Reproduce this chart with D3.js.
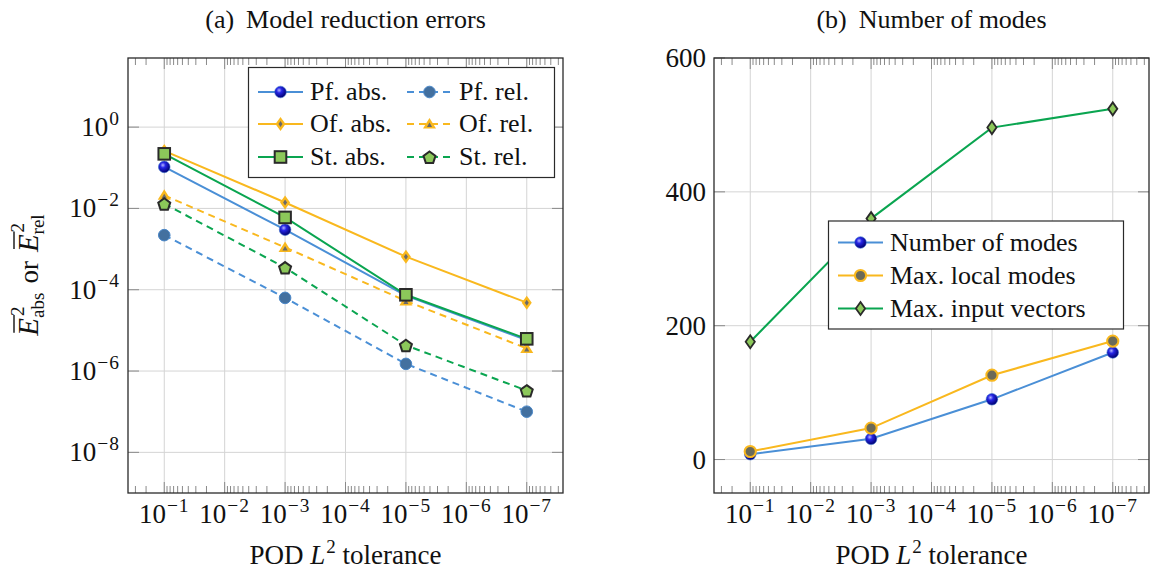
<!DOCTYPE html>
<html>
<head>
<meta charset="utf-8">
<script src="https://cdn.jsdelivr.net/npm/d3@7"></script>
<style>
  body { margin: 0; background: #fff; }
  svg { display: block; }
  svg text { font-family: "Liberation Serif", "Times New Roman", Tinos, "DejaVu Serif", serif; fill: #111; }
</style>
</head>
<body>
<svg id="fig" width="1151" height="571"></svg>
<script>
// DATA ///////////////////////////////////////////////////////////////////////
const tolerances = [1e-1, 1e-3, 1e-5, 1e-7];
const xTickExps = [-1, -2, -3, -4, -5, -6, -7];

// (a) model reduction errors
const pfAbs = [1.05e-1, 3.0e-3, 7.2e-5, 5.8e-6];
const pfRel = [2.2e-3, 6.3e-5, 1.5e-6, 1.0e-7];
const ofAbs = [2.6e-1, 1.4e-2, 6.5e-4, 4.8e-5];
const ofRel = [2.1e-2, 1.1e-3, 5.3e-5, 3.6e-6];
const stAbs = [2.2e-1, 6.0e-3, 7.5e-5, 6.2e-6];
const stRel = [1.3e-2, 3.5e-4, 4.3e-6, 3.3e-7];
const yTickExpsA = [0, -2, -4, -6, -8];

// (b) number of modes
const numModes = [8, 31, 90, 160];
const maxLocalModes = [12, 47, 126, 177];
const maxInputVectors = [176, 360, 496, 524];
const yTicksB = [0, 200, 400, 600];

// STYLE //////////////////////////////////////////////////////////////////////
const BLUE = "#4a8fd6", ORANGE = "#f9b81e", GREEN = "#0aa550";
const LIGHTGREEN = "#8cc85a", DARK = "#2a2a2a";
const GRID = "#d4d4d4", TICK = "#8a8a8a";
const TICKFONT = 27, LEGFONT = 26, LABFONT = 27, TITLEFONT = 26;

const svg = d3.select("#fig");

// ball gradient for the blue sphere markers
const defs = svg.append("defs");
const grad = defs.append("radialGradient").attr("id", "ball")
  .attr("cx", "38%").attr("cy", "35%").attr("r", "65%");
grad.append("stop").attr("offset", "0%").attr("stop-color", "#b4b4ff");
grad.append("stop").attr("offset", "35%").attr("stop-color", "#2626e6");
grad.append("stop").attr("offset", "100%").attr("stop-color", "#000070");

// markers
function marker(g, type, x, y) {
  const m = g.append("g").attr("transform", `translate(${x},${y})`);
  if (type === "ball") {
    m.append("circle").attr("r", 5.8).attr("fill", "url(#ball)")
      .attr("stroke", "#3a70d0").attr("stroke-width", 0.6);
  } else if (type === "dot") {
    m.append("circle").attr("r", 5.8).attr("fill", "#43709f")
      .attr("stroke", "#4a87c8").attr("stroke-width", 1);
  } else if (type === "diamondDot") {
    m.append("path").attr("d", "M0,-7L5,0L0,7L-5,0Z").attr("fill", ORANGE);
    m.append("path").attr("d", "M0,-3L2,0L0,3L-2,0Z").attr("fill", "#6a6a6a");
  } else if (type === "triDot") {
    m.append("path").attr("d", "M0,-6L6.5,4.5L-6.5,4.5Z").attr("fill", ORANGE);
    m.append("path").attr("d", "M0,-1.5L2.6,3L-2.6,3Z").attr("fill", "#6a6a6a");
  } else if (type === "square") {
    m.append("rect").attr("x", -5.8).attr("y", -5.8).attr("width", 11.6).attr("height", 11.6)
      .attr("fill", LIGHTGREEN).attr("stroke", DARK).attr("stroke-width", 2);
  } else if (type === "pentagon") {
    const pts = d3.range(5).map(i => {
      const a = -Math.PI / 2 + i * 2 * Math.PI / 5;
      return [6.3 * Math.cos(a), 6.3 * Math.sin(a) + 0.8];
    });
    m.append("path").attr("d", "M" + pts.join("L") + "Z")
      .attr("fill", LIGHTGREEN).attr("stroke", DARK).attr("stroke-width", 2);
  } else if (type === "ring") {
    m.append("circle").attr("r", 5.6).attr("fill", "#6b6a58")
      .attr("stroke", ORANGE).attr("stroke-width", 2);
  } else if (type === "diamondGreen") {
    m.append("path").attr("d", "M0,-6.5L4.6,0L0,6.5L-4.6,0Z")
      .attr("fill", LIGHTGREEN).attr("stroke", DARK).attr("stroke-width", 1.8);
  }
}

// "10^e" style label
function powLabel(sel, exp, size) {
  sel.append("tspan").text("10");
  sel.append("tspan").attr("dx", 1).attr("dy", -size * 0.42)
    .style("font-size", (size * 0.72) + "px").style("letter-spacing", "1px")
    .text((exp < 0 ? "\u2212" : "") + Math.abs(exp));
}

// PANELS /////////////////////////////////////////////////////////////////////
const plotTop = 58, plotBottom = 493, panelW = 435;
const panelLeft = [128, 714];

function xScale(x0) {
  return d3.scaleLog().domain([Math.pow(10, -0.4), Math.pow(10, -7.6)]).range([x0, x0 + panelW]);
}

function drawFrame(g, x, y, yMajor, yTickFmt, title) {
  const [x0, x1] = x.range();
  // grid
  g.selectAll(null).data(xTickExps).enter().append("line")
    .attr("x1", d => x(Math.pow(10, d))).attr("x2", d => x(Math.pow(10, d)))
    .attr("y1", plotTop).attr("y2", plotBottom).attr("stroke", GRID).attr("stroke-width", 1);
  g.selectAll(null).data(yMajor).enter().append("line")
    .attr("x1", x0).attr("x2", x1).attr("y1", d => y(d)).attr("y2", d => y(d))
    .attr("stroke", GRID).attr("stroke-width", 1);

  // x ticks (major + minor), top and bottom, inside
  const minor = [];
  for (let e = 0; e >= -8; e--) for (let m = 2; m <= 9; m++) {
    const v = m * Math.pow(10, e - 1);
    const px = x(v);
    if (px > x0 + 0.5 && px < x1 - 0.5) minor.push(v);
  }
  [[plotBottom, -1], [plotTop, 1]].forEach(([yy, dir]) => {
    g.selectAll(null).data(minor).enter().append("line")
      .attr("x1", d => x(d)).attr("x2", d => x(d))
      .attr("y1", yy).attr("y2", yy + dir * 7).attr("stroke", TICK).attr("stroke-width", 1);
    g.selectAll(null).data(xTickExps).enter().append("line")
      .attr("x1", d => x(Math.pow(10, d))).attr("x2", d => x(Math.pow(10, d)))
      .attr("y1", yy).attr("y2", yy + dir * 11).attr("stroke", TICK).attr("stroke-width", 1);
  });
  // y ticks, left and right
  [[x0, 1], [x1, -1]].forEach(([xx, dir]) => {
    g.selectAll(null).data(yMajor).enter().append("line")
      .attr("x1", xx).attr("x2", xx + dir * 11).attr("y1", d => y(d)).attr("y2", d => y(d))
      .attr("stroke", TICK).attr("stroke-width", 1);
  });

  // tick labels
  g.selectAll(null).data(xTickExps).enter().append("text")
    .attr("x", d => x(Math.pow(10, d))).attr("y", plotBottom + 30)
    .attr("text-anchor", "middle").style("font-size", TICKFONT + "px")
    .each(function (d) { powLabel(d3.select(this), d, TICKFONT); });
  g.selectAll(null).data(yMajor).enter().append("text")
    .attr("x", x0 - 8).attr("y", d => y(d) + 9)
    .attr("text-anchor", "end").style("font-size", TICKFONT + "px")
    .each(function (d) { yTickFmt(d3.select(this), d); });

  // x label
  const xl = g.append("text").attr("x", (x0 + x1) / 2).attr("y", 564)
    .attr("text-anchor", "middle").style("font-size", LABFONT + "px");
  xl.append("tspan").text("POD ");
  xl.append("tspan").style("font-style", "italic").text("L");
  xl.append("tspan").attr("dx", 1).attr("dy", -11).style("font-size", "19px").text("2");
  xl.append("tspan").attr("dy", 11).text(" tolerance");

  // title
  const t = g.append("text").attr("x", (x0 + x1) / 2).attr("y", 28)
    .attr("text-anchor", "middle").style("font-size", TITLEFONT + "px");
  t.append("tspan").text(title[0]);
  t.append("tspan").attr("dx", 12).text(title[1]);
}

function drawSeries(g, x, y, vals, color, dashed, mk) {
  const line = d3.line().x((d, i) => x(tolerances[i])).y(d => y(d));
  g.append("path").datum(vals).attr("d", line).attr("fill", "none")
    .attr("stroke", color).attr("stroke-width", 2)
    .attr("stroke-dasharray", dashed ? "7,5" : null);
  vals.forEach((v, i) => marker(g, mk, x(tolerances[i]), y(v)));
}

function drawBorder(g, x) {
  const [x0, x1] = x.range();
  g.append("rect").attr("x", x0).attr("y", plotTop).attr("width", x1 - x0).attr("height", plotBottom - plotTop)
    .attr("fill", "none").attr("stroke", DARK).attr("stroke-width", 1.3);
}

function legendEntry(g, lx, ly, color, dashed, mk, label) {
  g.append("line").attr("x1", lx).attr("x2", lx + 45).attr("y1", ly).attr("y2", ly)
    .attr("stroke", color).attr("stroke-width", 2).attr("stroke-dasharray", dashed ? "7,5" : null);
  marker(g, mk, lx + 22.5, ly);
  g.append("text").attr("x", lx + 52).attr("y", ly + 8).style("font-size", LEGFONT + "px").text(label);
}

// (a) ////////////////////////////////////////////////////////////////////////
{
  const g = svg.append("g");
  const x = xScale(panelLeft[0]);
  const y = d3.scaleLog().domain([1e-9, Math.pow(10, 1.7)]).range([plotBottom, plotTop]);
  drawFrame(g, x, y, yTickExpsA.map(e => Math.pow(10, e)),
    (sel, d) => powLabel(sel, Math.round(Math.log10(d)), TICKFONT),
    ["(a)", "Model reduction errors"]);

  drawSeries(g, x, y, pfAbs, BLUE, false, "ball");
  drawSeries(g, x, y, pfRel, BLUE, true, "dot");
  drawSeries(g, x, y, ofAbs, ORANGE, false, "diamondDot");
  drawSeries(g, x, y, ofRel, ORANGE, true, "triDot");
  drawSeries(g, x, y, stAbs, GREEN, false, "square");
  drawSeries(g, x, y, stRel, GREEN, true, "pentagon");
  drawBorder(g, x);

  // legend
  g.append("rect").attr("x", 248.5).attr("y", 67.5).attr("width", 306).attr("height", 110)
    .attr("fill", "#fff").attr("stroke", DARK).attr("stroke-width", 1.2);
  const rows = [92, 124, 157];
  legendEntry(g, 258, rows[0], BLUE, false, "ball", "Pf. abs.");
  legendEntry(g, 407, rows[0], BLUE, true, "dot", "Pf. rel.");
  legendEntry(g, 258, rows[1], ORANGE, false, "diamondDot", "Of. abs.");
  legendEntry(g, 407, rows[1], ORANGE, true, "triDot", "Of. rel.");
  legendEntry(g, 258, rows[2], GREEN, false, "square", "St. abs.");
  legendEntry(g, 407, rows[2], GREEN, true, "pentagon", "St. rel.");

  // y label: E-bar^2_abs or E-bar^2_rel, rotated
  const yl = g.append("g");
  const inner = yl.append("g");
  let cx = 0;
  function ebar(sub) {
    const E = inner.append("text").attr("x", cx).attr("y", 0)
      .style("font-size", "29px").style("font-style", "italic").text("E");
    const w = E.node().getComputedTextLength();
    inner.append("line").attr("x1", cx + 3).attr("x2", cx + w + 3).attr("y1", -24).attr("y2", -24)
      .attr("stroke", "#111").attr("stroke-width", 1.4);
    const s1 = inner.append("text").attr("x", cx + w + 2).attr("y", -14).style("font-size", "19px").text("2");
    const s2 = inner.append("text").attr("x", cx + w).attr("y", 6).style("font-size", "19px").text(sub);
    cx += w + Math.max(s1.node().getComputedTextLength() + 2, s2.node().getComputedTextLength());
  }
  ebar("abs");
  const or = inner.append("text").attr("x", cx + 9).attr("y", 0).style("font-size", "27px").text("or");
  cx += 9 + or.node().getComputedTextLength() + 9;
  ebar("rel");
  inner.attr("transform", `translate(${-cx / 2},0)`);
  yl.attr("transform", "translate(38,275) rotate(-90)");
}

// (b) ////////////////////////////////////////////////////////////////////////
{
  const g = svg.append("g");
  const x = xScale(panelLeft[1]);
  const y = d3.scaleLinear().domain([-50, 600]).range([plotBottom, plotTop]);
  drawFrame(g, x, y, yTicksB, (sel, d) => sel.text(d), ["(b)", "Number of modes"]);

  drawSeries(g, x, y, numModes, BLUE, false, "ball");
  drawSeries(g, x, y, maxLocalModes, ORANGE, false, "ring");
  drawSeries(g, x, y, maxInputVectors, GREEN, false, "diamondGreen");
  drawBorder(g, x);

  g.append("rect").attr("x", 828.5).attr("y", 221).attr("width", 295).attr("height", 108)
    .attr("fill", "#fff").attr("stroke", DARK).attr("stroke-width", 1.2);
  legendEntry(g, 838, 242.5, BLUE, false, "ball", "Number of modes");
  legendEntry(g, 838, 275.5, ORANGE, false, "ring", "Max. local modes");
  legendEntry(g, 838, 308.5, GREEN, false, "diamondGreen", "Max. input vectors");
}
</script>
</body>
</html>
